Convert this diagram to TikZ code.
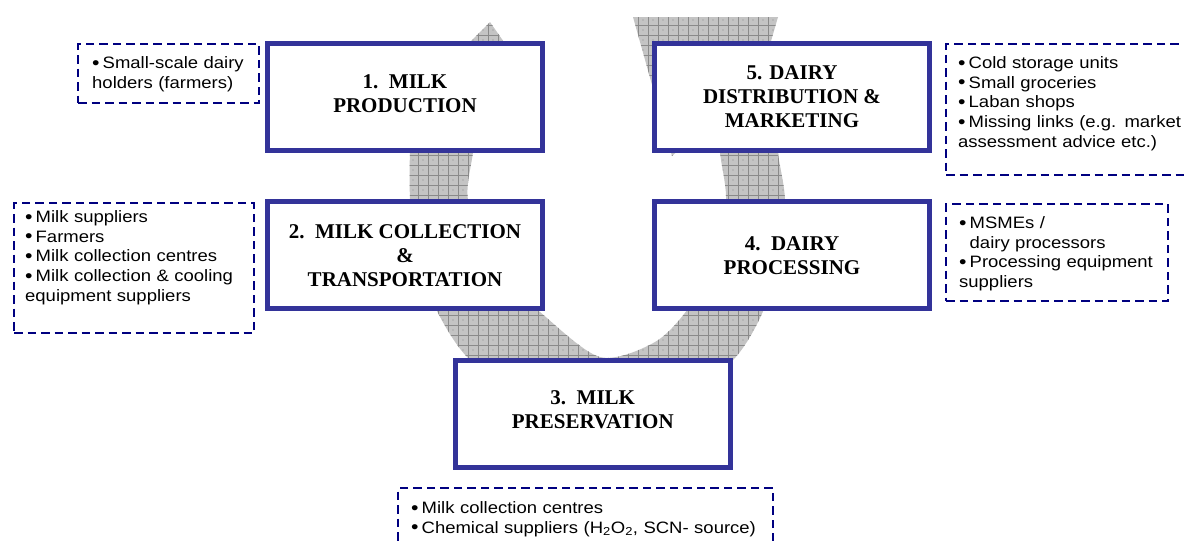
\documentclass[tikz,border=0pt]{standalone}
\usepackage{fontspec}
\setmainfont{Liberation Serif}
\newfontfamily\listfont[FakeStretch=1.12]{Liberation Sans}
\newfontfamily\stagefont{Liberation Serif}
\definecolor{stageblue}{RGB}{51,51,153}
\definecolor{actorblue}{RGB}{0,0,128}
\definecolor{arrowfill}{RGB}{196,196,196}
\definecolor{arrowgrid}{RGB}{138,138,138}
% the U-shaped cycle arrow: head at the top left, flared tail at the top right
\newcommand\cyclearrow{(490,22) -- (540,94) -- (480,94)
  -- plot[smooth] coordinates {(480,94) (473,152) (468,200) (490,265) (540,312)
     (600,357) (655,342) (690,306) (716,255) (726,200) (720,153) (717,115)}
  -- (672,156) -- (633,17) -- (778,17) -- (769,48)
  -- plot[smooth] coordinates {(769,48) (773,100) (778,153) (785,200) (781,260)
     (760,318) (733,360) (680,400) (600,412) (520,395) (468,358) (437,311)
     (414,250) (410,200) (410,152) (414,100)}
  -- (412,100) -- cycle}
% a slightly larger bullet mark, followed by the gap to the item text
\newcommand\bigbullet{\makebox[10.5pt][l]{\raisebox{-0.6pt}{\fontsize{19}{0}\selectfont\textbullet}}}
% one bullet item with a hanging indent
\newcommand\bul{\par\noindent\hangindent=10.5pt\hangafter=1 \bigbullet}
\begin{document}
\begin{tikzpicture}[x=1pt,y=-1pt,
  stage/.style={draw=stageblue, line width=4.8pt, fill=white, inner sep=0pt,
    minimum width=275pt, minimum height=107pt},
  title/.style={align=center, inner sep=0pt,
    font=\stagefont\bfseries\fontsize{21}{24}\selectfont},
  actors/.style={draw=actorblue, line width=2pt, dash pattern=on 8.5pt off 5pt,
    inner sep=0pt, anchor=north west},
  actortext/.style={anchor=north west, inner sep=0pt, text width=420pt,
    align=left, font=\listfont\fontsize{16.5}{19.7}\selectfont}]
\useasboundingbox (0,0) rectangle (1184,541);
\clip (0,0) rectangle (1184,541);

% cycle arrow with its grid texture
\fill[arrowfill] \cyclearrow;
\begin{scope}
  \clip \cyclearrow;
  \draw[arrowgrid, line width=0.6pt, step=10pt, shift={(8pt,-5pt)}] (370,-10) grid (800,420);
  \foreach \gx in {383,393,...,793}
    \foreach \gy in {10,20,...,410}
      \fill[arrowgrid] (\gx,\gy) circle[radius=0.55pt];
\end{scope}

% value chain stages
\node[stage] (s1) at (405,97) {};
\node[stage] (s2) at (405,255.25) {};
\node[stage] (s3) at (592.75,414) {};
\node[stage] (s4) at (792,255.25) {};
\node[stage] (s5) at (792,97) {};

\node[title] (t1) at ([yshift=3pt]s1.center) {1.\hspace{.5em}MILK\\PRODUCTION};
\node[title] (t2) at (s2.center) {2.\hspace{.5em}MILK COLLECTION\\\&\\TRANSPORTATION};
\node[title] (t3) at ([yshift=4pt]s3.center) {3.\hspace{.5em}MILK\\PRESERVATION};
\node[title] (t4) at (s4.center) {4.\hspace{.5em}DAIRY\\PROCESSING};
\node[title] (t5) at (s5.center) {5. DAIRY\\DISTRIBUTION \&\\MARKETING};

% actors at each stage
\node[actors, minimum width=181pt, minimum height=59pt] (a1) at (77,43) {};
\node[actors, minimum width=240pt, minimum height=130pt] (a2) at (13,202) {};
\node[actors, minimum width=375pt, minimum height=70pt] (a3) at (397,487) {};
\node[actors, minimum width=222pt, minimum height=97pt] (a4) at (945,203) {};
\node[actors, minimum width=260pt, minimum height=131pt] (a5) at (945,43) {};

\node[actortext] (l1) at (92,48.5) {\bul Small-scale dairy\newline holders (farmers)};
\node[actortext] (l2) at (25,202.5) {\bul Milk suppliers\bul Farmers
  \bul Milk collection centres\par\noindent\bigbullet Milk collection \& cooling\newline equipment suppliers};
\node[actortext] (l3) at (411,493.5) {\bul Milk collection centres
  \bul Chemical suppliers (H\textsubscript{2}O\textsubscript{2}, SCN- source)};
\node[actortext] (l4) at (959,208.5) {\bul MSMEs /\newline dairy processors
  \bul Processing equipment\newline suppliers};
\node[actortext] (l5) at (958,48.5) {\bul Cold storage units\bul Small groceries
  \bul Laban shops\bul Missing links (e.g. market\newline assessment advice etc.)};
\end{tikzpicture}
\end{document}
